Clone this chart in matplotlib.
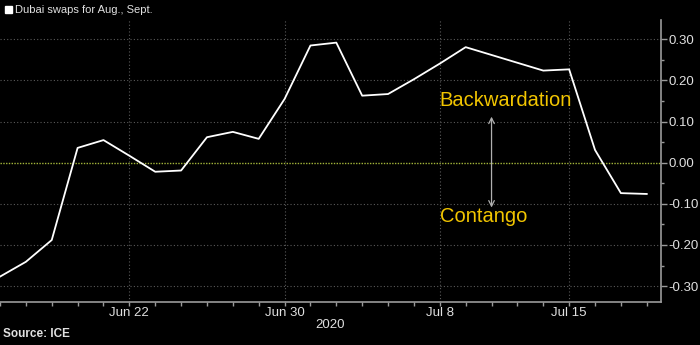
import numpy as np
import matplotlib
matplotlib.use('Agg')
import matplotlib.pyplot as plt
from matplotlib.ticker import MultipleLocator, FixedLocator, FixedFormatter

plt.rcParams['font.family'] = ['Liberation Sans Narrow', 'Liberation Sans', 'DejaVu Sans']

# Trading days shown on the axis (Jun 15 - Jul 20, 2020)
dates = ['Jun 15', 'Jun 16', 'Jun 17', 'Jun 18', 'Jun 19', 'Jun 22', 'Jun 23',
         'Jun 24', 'Jun 25', 'Jun 26', 'Jun 29', 'Jun 30', 'Jul 1', 'Jul 2',
         'Jul 3', 'Jul 6', 'Jul 7', 'Jul 8', 'Jul 9', 'Jul 10', 'Jul 13',
         'Jul 14', 'Jul 15', 'Jul 16', 'Jul 17', 'Jul 20']
spread = [-0.277, -0.241, -0.188, 0.036, 0.055, 0.017, -0.022,
          -0.019, 0.062, 0.075, 0.058, 0.155, 0.285, 0.292,
          0.163, 0.167, 0.203, 0.241, 0.281, 0.262, 0.243,
          0.224, 0.227, 0.031, -0.074, -0.076]
tick_dates = ['Jun 22', 'Jun 30', 'Jul 8', 'Jul 15']

bg = 'black'
fg = '#e0e0e0'
grid_col = '#5a5a5a'
gold = '#f2c500'

fig = plt.figure(figsize=(7, 3.45), dpi=100, facecolor=bg)
ax = fig.add_axes([0.0, 0.1255, 0.9439, 0.8165], facecolor=bg)

x = np.arange(len(dates))
ax.plot(x, spread, color='white', linewidth=1.3, zorder=3)

ax.set_xlim(0, 25.54)
ax.set_ylim(-0.338, 0.347)

# y axis on the right
ax.yaxis.tick_right()
ax.yaxis.set_major_locator(MultipleLocator(0.1))
ax.yaxis.set_minor_locator(MultipleLocator(0.05))
ax.yaxis.set_major_formatter(plt.FuncFormatter(lambda v, p: f'{v:.2f}'.replace('-0.00', '0.00')))
ax.tick_params(axis='y', which='major', length=4, width=1, color='#9a9a9a',
               labelcolor=fg, labelsize=9.5, pad=1.5)
ax.tick_params(axis='y', which='minor', length=2, width=1, color='#9a9a9a')

# x axis: a tick per trading day, labels on a few
major_pos = [dates.index(d) for d in tick_dates]
ax.xaxis.set_major_locator(FixedLocator(major_pos))
ax.xaxis.set_major_formatter(FixedFormatter(tick_dates))
ax.xaxis.set_minor_locator(FixedLocator(x))
ax.tick_params(axis='x', which='major', length=3, width=1, color='#9a9a9a',
               labelcolor=fg, labelsize=9.5, pad=1)
ax.tick_params(axis='x', which='minor', length=3, width=1, color='#9a9a9a')
ax.text(0.5, -0.083, '2020', transform=ax.transAxes, ha='center', va='center',
        color=fg, fontsize=9.5)

for s in ['top', 'left']:
    ax.spines[s].set_visible(False)
for s in ['bottom', 'right']:
    ax.spines[s].set_color('#9a9a9a')
    ax.spines[s].set_linewidth(1.2)

# grid
for v in [-0.3, -0.2, -0.1, 0.1, 0.2, 0.3]:
    ax.axhline(v, color=grid_col, linestyle=(0, (1, 2)), linewidth=0.8, zorder=1)
for p in major_pos:
    ax.axvline(p, color=grid_col, linestyle=(0, (1, 2)), linewidth=0.8, zorder=1)
ax.axhline(0, color='#a4b63a', linestyle=(0, (1, 1)), linewidth=1.0, zorder=2)

# annotation
ax.annotate('', xy=(19, 0.112), xytext=(19, -0.109),
            arrowprops=dict(arrowstyle='<->', color='#b0b0b0', lw=0.9,
                            shrinkA=0, shrinkB=0))
ax.text(17.0, 0.151, 'Backwardation', color=gold, fontsize=14.5,
        ha='left', va='center')
ax.text(17.0, -0.131, 'Contango', color=gold, fontsize=14.5,
        ha='left', va='center')

# legend & source
fig.patches.append(plt.Rectangle((5 / 700, 1 - 13 / 345), 7 / 700, 7 / 345,
                                 transform=fig.transFigure, color='white'))
fig.text(15 / 700, 1 - 10 / 345, 'Dubai swaps for Aug., Sept.', color=fg,
         fontsize=8, ha='left', va='center')
fig.text(3 / 700, 5 / 345, 'Source: ICE', color=fg, fontsize=8.5,
         fontweight='bold', ha='left', va='bottom')

fig.savefig('out.png', dpi=100, facecolor=bg)
